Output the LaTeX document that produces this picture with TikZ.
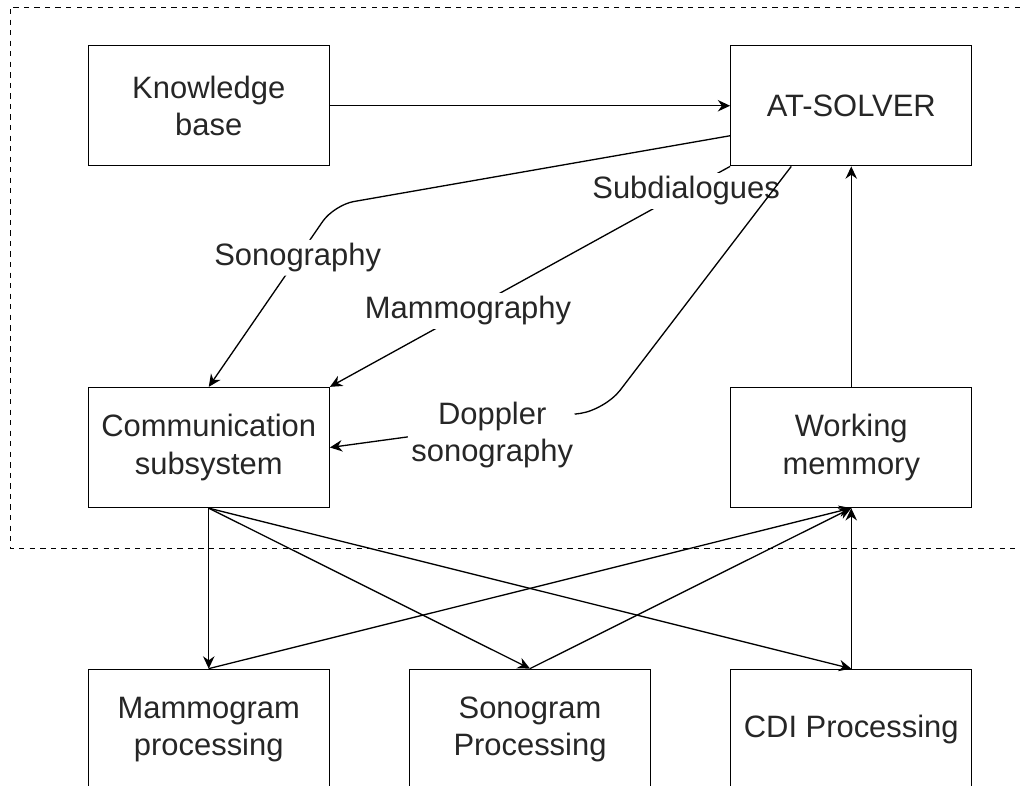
\documentclass[tikz,border=0pt]{standalone}
\usepackage{fontspec}
\setmainfont{Liberation Sans}
\usetikzlibrary{arrows.meta}

\begin{document}
\begin{tikzpicture}[x=0.02cm,y=-0.02cm,
>={Stealth[length=7pt,width=6.5pt]},
line width=0.75pt,
every node/.style={font=\fontsize{17.6}{21.2}\selectfont,text=black!85},
square/.style={
% The shape:
rectangle,
draw=black,
minimum width=4.82cm,
minimum height=2.4cm,
align=center
},
tag/.style={
fill=white,
inner sep=2pt,
align=center
},
coord/.style={
coordinate
}
]
\useasboundingbox (0,0) rectangle (1020,785);
% group frame
\draw [dashed,line width=0.5pt] (1020,7) -- (10,7) -- (10,548) -- (1020,548);
\matrix (m) [row sep=3.21cm,column sep=1.58cm,inner sep=0pt] at (530,417.5) {
% First row:
\node (kb) [square] {Knowledge\\base}; & & \node (solver) [square] {AT-SOLVER}; \\[1.2cm]
% Second row:
\node (comm) [square] {Communication\\subsystem}; & & \node (memory) [square] {Working\\memmory}; \\
% Third row:
\node (mammo) [square] {Mammogram\\processing}; & \node (sono) [square] {Sonogram\\Processing}; & \node (cdi) [square] {CDI Processing}; \\
};
\node (sonobend) [coord] at (334,205) {};
\node (dopplerbend) [coord] at (605,410) {};
\draw [->] (kb) -- (solver);
\draw [->,rounded corners=0.4cm] ([yshift=-0.6cm]solver.west) -- (sonobend) -- node [tag,pos=0.29] {Sonography} (comm.north);
\draw [->] (solver.south west) -- node [tag,pos=0.11] {Subdialogues} node [tag,pos=0.655] {Mammography} (comm.north east);
\draw [->,rounded corners=0.5cm] ([xshift=-1.2cm]solver.south) -- (dopplerbend) -- node [tag,pos=0.41,yshift=-0.2cm] {Doppler\\sonography} (comm.east);
\draw [->] (memory) -- (solver);
% processing modules
\path (comm.south) edge[->] (mammo.north) edge[->] (sono.north) edge[->] (cdi.north);
\path (mammo.north) edge[->] (memory.south) (sono.north) edge[->] (memory.south) (cdi.north) edge[->] (memory.south);
\end{tikzpicture}
\end{document}
